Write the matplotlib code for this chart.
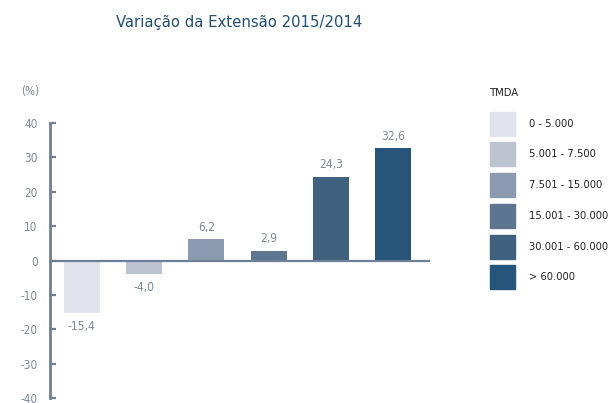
import matplotlib
matplotlib.use('Agg')
from matplotlib import pyplot as plt
from matplotlib import font_manager
from matplotlib.font_manager import FontProperties
from matplotlib.textpath import TextToPath
from matplotlib.patches import Rectangle

# data
classes = ['0 - 5.000', '5.001 - 7.500', '7.501 - 15.000',
           '15.001 - 30.000', '30.001 - 60.000', '> 60.000']
values = [-15.4, -4.0, 6.2, 2.9, 24.3, 32.6]
colors = ['#e1e4ec', '#bcc3d1', '#8a9ab0', '#5e7592', '#40607f', '#26547a']
yticks = [-40, -30, -20, -10, 0, 10, 20, 30, 40]
title = 'Variação da Extensão 2015/2014'

# the original uses a narrow DIN-like face: use a regular condensed one if there is one
bad = ('thin', 'light', 'hairline', 'black', 'bold', 'medium', 'italic', 'heavy', 'semi')
cands = []
for f in font_manager.fontManager.ttflist:
    fn = f.fname.lower()
    narrow = 'condensed' in fn or 'narrow' in fn or 'Condensed' in f.name or 'Narrow' in f.name
    if narrow and f.style == 'normal' and not any(b in fn.split('/')[-1] for b in bad):
        cands.append(f.fname)
cands.sort()
fpath = cands[0] if cands else None

ttp = TextToPath()


def fp(size):
    if fpath:
        return FontProperties(fname=fpath, size=size)
    return FontProperties(family='DejaVu Sans', size=size)


def fit(s, target, cap):
    # font size so that the text is about as wide as in the picture
    w = ttp.get_text_width_height_descent(s, fp(10), ismath=False)[0] * 100 / 72
    return min(cap, 10 * target / w)


plt.rcParams['axes.unicode_minus'] = False

axis_col = '#6f7f95'
text_col = '#7d889a'
leg_size = fit('15.001 - 30.000', 80, 12)
tick_size = fit('-40', 17, 12)
val_size = fit('-15,4', 28, 12)
title_size = fit(title, 245, 18)

fig = plt.figure(figsize=(6.12, 4.03), dpi=100)
ax = fig.add_axes([50 / 612, 1 - 398 / 403, 380 / 612, 275 / 403])

x = list(range(len(values)))
ax.bar(x, values, width=0.58, color=colors, zorder=2)
ax.axhline(0, color=axis_col, lw=1.6, zorder=3)

for xi, v in zip(x, values):
    lab = f'{v:.1f}'.replace('.', ',')
    if v >= 0:
        ax.annotate(lab, (xi, v), xytext=(0, 4), textcoords='offset points',
                    ha='center', va='bottom', fontproperties=fp(val_size), color=text_col)
    else:
        ax.annotate(lab, (xi, v), xytext=(0, -5), textcoords='offset points',
                    ha='center', va='top', fontproperties=fp(val_size), color=text_col)

ax.set_xlim(-0.51, 5.59)
ax.set_ylim(-40, 40)
ax.set_yticks(yticks)
ax.set_yticklabels([str(t) for t in yticks], fontproperties=fp(tick_size))
ax.set_xticks([])
for s in ['top', 'right', 'bottom']:
    ax.spines[s].set_visible(False)
ax.spines['left'].set_color(axis_col)
ax.spines['left'].set_linewidth(2)
ax.tick_params(axis='y', direction='in', length=4, width=1.6, color=axis_col,
               labelcolor=text_col, pad=9)
ax.set_facecolor('none')

fig.text(30 / 612, 1 - 92 / 403, '(%)', ha='center', va='center',
         fontproperties=fp(tick_size), color=text_col)
fig.text(239 / 612, 1 - 23 / 403, title, ha='center',
         va='center', fontproperties=fp(title_size), color='#1f4e79')

# legend
fig.text(490 / 612, 1 - 93 / 403, 'TMDA', ha='left', va='center',
         fontproperties=fp(leg_size), color='#222222')
for i, (c, lab) in enumerate(zip(colors, classes)):
    yc = 123.7 + i * 30.7
    fig.patches.append(Rectangle((490 / 612, 1 - (yc + 12) / 403), 25 / 612, 24 / 403,
                                 transform=fig.transFigure, color=c, figure=fig))
    fig.text(529 / 612, 1 - yc / 403, lab, ha='left', va='center',
             fontproperties=fp(leg_size), color='#222222')

fig.savefig('out.png', dpi=100)
